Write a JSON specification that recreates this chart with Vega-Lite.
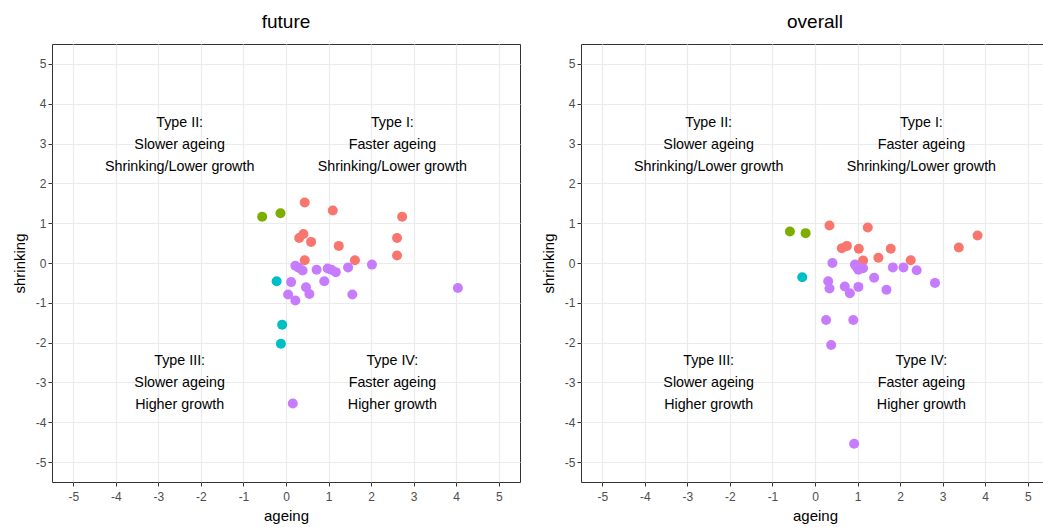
{
  "$schema": "https://vega.github.io/schema/vega-lite/v6.json",
  "padding": {"left": 11, "top": 12, "right": 0, "bottom": 0},
  "background": "white",
  "datasets": {
    "future": [
      {"ageing": 0.44, "shrinking": 1.52, "type": "Type I"},
      {"ageing": 1.10, "shrinking": 1.32, "type": "Type I"},
      {"ageing": 2.73, "shrinking": 1.16, "type": "Type I"},
      {"ageing": 0.41, "shrinking": 0.73, "type": "Type I"},
      {"ageing": 0.31, "shrinking": 0.63, "type": "Type I"},
      {"ageing": 0.59, "shrinking": 0.53, "type": "Type I"},
      {"ageing": 1.24, "shrinking": 0.43, "type": "Type I"},
      {"ageing": 2.61, "shrinking": 0.63, "type": "Type I"},
      {"ageing": 2.61, "shrinking": 0.19, "type": "Type I"},
      {"ageing": 0.44, "shrinking": 0.07, "type": "Type I"},
      {"ageing": 1.62, "shrinking": 0.07, "type": "Type I"},
      {"ageing": -0.56, "shrinking": 1.16, "type": "Type II"},
      {"ageing": -0.13, "shrinking": 1.25, "type": "Type II"},
      {"ageing": -0.22, "shrinking": -0.46, "type": "Type III"},
      {"ageing": -0.09, "shrinking": -1.55, "type": "Type III"},
      {"ageing": -0.12, "shrinking": -2.03, "type": "Type III"},
      {"ageing": 0.22, "shrinking": -0.07, "type": "Type IV"},
      {"ageing": 0.39, "shrinking": -0.19, "type": "Type IV"},
      {"ageing": 0.30, "shrinking": -0.12, "type": "Type IV"},
      {"ageing": 0.72, "shrinking": -0.17, "type": "Type IV"},
      {"ageing": 0.98, "shrinking": -0.14, "type": "Type IV"},
      {"ageing": 1.07, "shrinking": -0.17, "type": "Type IV"},
      {"ageing": 1.17, "shrinking": -0.23, "type": "Type IV"},
      {"ageing": 1.46, "shrinking": -0.11, "type": "Type IV"},
      {"ageing": 2.02, "shrinking": -0.04, "type": "Type IV"},
      {"ageing": 0.12, "shrinking": -0.48, "type": "Type IV"},
      {"ageing": 0.90, "shrinking": -0.46, "type": "Type IV"},
      {"ageing": 0.47, "shrinking": -0.61, "type": "Type IV"},
      {"ageing": 0.55, "shrinking": -0.78, "type": "Type IV"},
      {"ageing": 0.05, "shrinking": -0.79, "type": "Type IV"},
      {"ageing": 0.22, "shrinking": -0.94, "type": "Type IV"},
      {"ageing": 1.56, "shrinking": -0.79, "type": "Type IV"},
      {"ageing": 4.04, "shrinking": -0.63, "type": "Type IV"},
      {"ageing": 0.16, "shrinking": -3.53, "type": "Type IV"}
    ],
    "overall": [
      {"ageing": 0.34, "shrinking": 0.94, "type": "Type I"},
      {"ageing": 1.24, "shrinking": 0.89, "type": "Type I"},
      {"ageing": 3.82, "shrinking": 0.69, "type": "Type I"},
      {"ageing": 3.38, "shrinking": 0.39, "type": "Type I"},
      {"ageing": 0.63, "shrinking": 0.37, "type": "Type I"},
      {"ageing": 0.75, "shrinking": 0.43, "type": "Type I"},
      {"ageing": 1.03, "shrinking": 0.36, "type": "Type I"},
      {"ageing": 1.78, "shrinking": 0.36, "type": "Type I"},
      {"ageing": 1.13, "shrinking": 0.06, "type": "Type I"},
      {"ageing": 1.49, "shrinking": 0.13, "type": "Type I"},
      {"ageing": 2.25, "shrinking": 0.07, "type": "Type I"},
      {"ageing": -0.59, "shrinking": 0.79, "type": "Type II"},
      {"ageing": -0.22, "shrinking": 0.75, "type": "Type II"},
      {"ageing": -0.30, "shrinking": -0.36, "type": "Type III"},
      {"ageing": 0.41, "shrinking": 0.0, "type": "Type IV"},
      {"ageing": 0.94, "shrinking": -0.04, "type": "Type IV"},
      {"ageing": 1.02, "shrinking": -0.17, "type": "Type IV"},
      {"ageing": 1.13, "shrinking": -0.13, "type": "Type IV"},
      {"ageing": 0.98, "shrinking": -0.10, "type": "Type IV"},
      {"ageing": 1.83, "shrinking": -0.11, "type": "Type IV"},
      {"ageing": 2.08, "shrinking": -0.11, "type": "Type IV"},
      {"ageing": 2.39, "shrinking": -0.18, "type": "Type IV"},
      {"ageing": 2.82, "shrinking": -0.50, "type": "Type IV"},
      {"ageing": 1.39, "shrinking": -0.37, "type": "Type IV"},
      {"ageing": 0.31, "shrinking": -0.46, "type": "Type IV"},
      {"ageing": 0.34, "shrinking": -0.64, "type": "Type IV"},
      {"ageing": 0.70, "shrinking": -0.59, "type": "Type IV"},
      {"ageing": 0.82, "shrinking": -0.76, "type": "Type IV"},
      {"ageing": 1.02, "shrinking": -0.60, "type": "Type IV"},
      {"ageing": 1.68, "shrinking": -0.67, "type": "Type IV"},
      {"ageing": 0.26, "shrinking": -1.43, "type": "Type IV"},
      {"ageing": 0.90, "shrinking": -1.43, "type": "Type IV"},
      {"ageing": 0.38, "shrinking": -2.06, "type": "Type IV"},
      {"ageing": 0.92, "shrinking": -4.54, "type": "Type IV"}
    ],
    "labels": [
      {"ageing": -2.5, "shrinking": 3, "label": "Type II:\nSlower ageing\nShrinking/Lower growth"},
      {"ageing": 2.5, "shrinking": 3, "label": "Type I:\nFaster ageing\nShrinking/Lower growth"},
      {"ageing": -2.5, "shrinking": -3, "label": "Type III:\nSlower ageing\nHigher growth"},
      {"ageing": 2.5, "shrinking": -3, "label": "Type IV:\nFaster ageing\nHigher growth"}
    ]
  },
  "spacing": 19,
  "hconcat": [
    {
      "title": "future",
      "width": 468,
      "height": 438,
      "layer": [
        {"mark": {"type": "rule", "color": "black", "strokeWidth": 1}, "encoding": {"x": {"datum": 0, "type": "quantitative", "scale": {"domain": [-5.5, 5.5], "nice": false, "zero": false}, "axis": {"title": "ageing"}}}},
        {"mark": {"type": "rule", "color": "black", "strokeWidth": 1}, "encoding": {"y": {"datum": 0, "type": "quantitative", "scale": {"domain": [-5.5, 5.5], "nice": false, "zero": false}, "axis": {"title": "shrinking"}}}},
        {
          "data": {"name": "future"},
          "mark": {"type": "circle", "size": 100, "opacity": 1},
          "encoding": {
            "x": {"field": "ageing", "type": "quantitative", "axis": {"title": "ageing"}},
            "y": {"field": "shrinking", "type": "quantitative", "axis": {"title": "shrinking"}},
            "color": {"field": "type", "type": "nominal", "legend": null}
          }
        },
        {
          "data": {"name": "labels"},
          "mark": {"type": "text", "lineBreak": "\n", "lineHeight": 22, "fontSize": 14.3, "baseline": "middle", "align": "center", "dy": -21, "color": "black"},
          "encoding": {
            "x": {"field": "ageing", "type": "quantitative", "axis": {"title": "ageing"}},
            "y": {"field": "shrinking", "type": "quantitative", "axis": {"title": "shrinking"}},
            "text": {"field": "label"}
          }
        }
      ]
    },
    {
      "title": "overall",
      "width": 468,
      "height": 438,
      "layer": [
        {"mark": {"type": "rule", "color": "black", "strokeWidth": 1}, "encoding": {"x": {"datum": 0, "type": "quantitative", "scale": {"domain": [-5.5, 5.5], "nice": false, "zero": false}, "axis": {"title": "ageing"}}}},
        {"mark": {"type": "rule", "color": "black", "strokeWidth": 1}, "encoding": {"y": {"datum": 0, "type": "quantitative", "scale": {"domain": [-5.5, 5.5], "nice": false, "zero": false}, "axis": {"title": "shrinking"}}}},
        {
          "data": {"name": "overall"},
          "mark": {"type": "circle", "size": 100, "opacity": 1},
          "encoding": {
            "x": {"field": "ageing", "type": "quantitative", "axis": {"title": "ageing"}},
            "y": {"field": "shrinking", "type": "quantitative", "axis": {"title": "shrinking"}},
            "color": {"field": "type", "type": "nominal", "legend": null}
          }
        },
        {
          "data": {"name": "labels"},
          "mark": {"type": "text", "lineBreak": "\n", "lineHeight": 22, "fontSize": 14.3, "baseline": "middle", "align": "center", "dy": -21, "color": "black"},
          "encoding": {
            "x": {"field": "ageing", "type": "quantitative", "axis": {"title": "ageing"}},
            "y": {"field": "shrinking", "type": "quantitative", "axis": {"title": "shrinking"}},
            "text": {"field": "label"}
          }
        }
      ]
    }
  ],
  "resolve": {"scale": {"x": "independent", "y": "independent"}},
  "config": {
    "font": "Liberation Sans",
    "view": {"stroke": "#333333", "strokeWidth": 1},
    "title": {"fontSize": 19, "fontWeight": "normal", "color": "black", "offset": 12, "anchor": "middle"},
    "range": {"category": ["#F8766D", "#7CAE00", "#00BFC4", "#C77CFF"]},
    "axis": {
      "domain": false,
      "grid": true,
      "gridColor": "#EBEBEB",
      "gridWidth": {"condition": {"test": "datum.value % 1 !== 0", "value": 0.7}, "value": 1.2},
      "tickColor": "#333333",
      "tickSize": 4,
      "tickOpacity": {"condition": {"test": "datum.value % 1 !== 0", "value": 0}, "value": 1},
      "labelColor": "#4D4D4D",
      "labelFontSize": 12,
      "labelPadding": 2,
      "titleFontSize": 15,
      "titleFontWeight": "normal",
      "titleColor": "black",
      "titlePadding": 8,
      "values": [-5, -4.5, -4, -3.5, -3, -2.5, -2, -1.5, -1, -0.5, 0, 0.5, 1, 1.5, 2, 2.5, 3, 3.5, 4, 4.5, 5],
      "labelExpr": "datum.value % 1 === 0 ? toString(datum.value) : ''",
      "labelFlush": false,
      "labelOverlap": false
    },
    "axisX": {"labelPadding": 5, "titlePadding": 6}
  }
}
